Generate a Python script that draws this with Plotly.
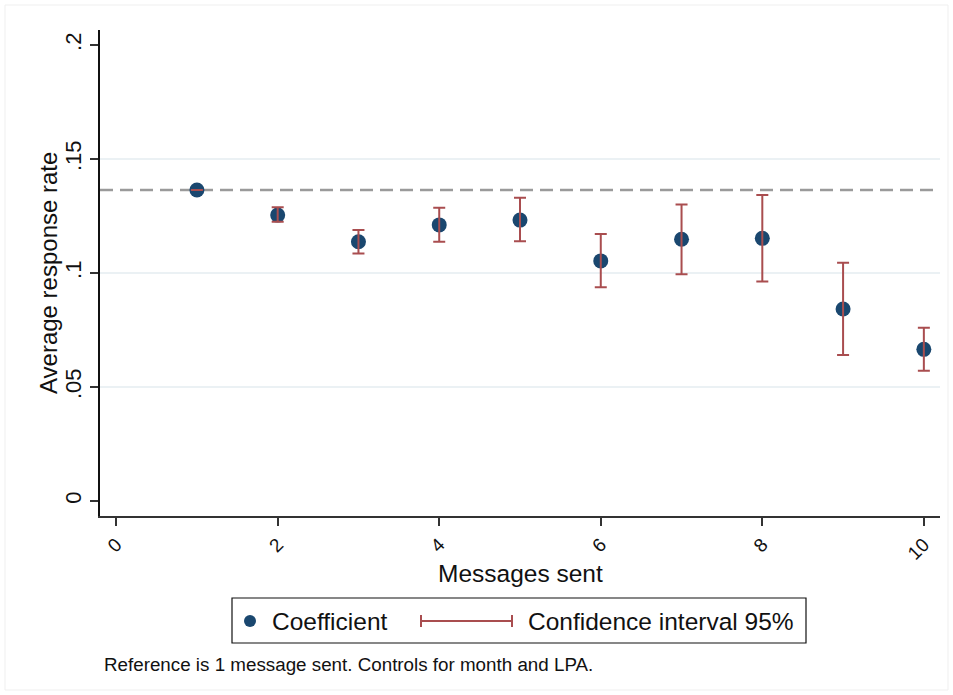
import plotly.graph_objects as go

# Coefficients by number of messages sent (reference: 1 message)
messages = [1, 2, 3, 4, 5, 6, 7, 8, 9, 10]
coef = [0.1364, 0.1254, 0.1137, 0.1211, 0.1232, 0.1053, 0.1148, 0.1152, 0.0842, 0.0665]
ci_low = [0.1364, 0.1225, 0.1086, 0.1137, 0.1139, 0.0937, 0.0994, 0.0963, 0.0640, 0.0571]
ci_high = [0.1364, 0.1288, 0.1189, 0.1286, 0.1330, 0.1171, 0.1301, 0.1342, 0.1045, 0.0760]
reference_rate = 0.1364

x_ticks = [0, 2, 4, 6, 8, 10]
y_ticks = [0, 0.05, 0.10, 0.15, 0.20]
y_tick_text = ["0", ".05", ".1", ".15", ".2"]
grid_values = [0.05, 0.10, 0.15]

NAVY = "#1a476f"
MAROON = "#a94d4f"
FONT = "Liberation Sans, Arial, sans-serif"

W, H = 953, 695
ML, MR, MT, MB = 100, 13, 30, 179
PW, PH = W - ML - MR, H - MT - MB


def px(x):
    return (x - ML) / PW


def py(y):
    return (H - MB - y) / PH


fig = go.Figure()

# point estimates
fig.add_trace(go.Scatter(
    x=messages, y=coef, mode="markers",
    marker=dict(color=NAVY, size=15),
    showlegend=False, hoverinfo="skip",
))

# 95% confidence intervals drawn on top of the points
fig.add_trace(go.Scatter(
    x=messages, y=coef, mode="markers",
    marker=dict(color=NAVY, size=1, opacity=0),
    error_y=dict(
        type="data", symmetric=False,
        array=[h - c for h, c in zip(ci_high, coef)],
        arrayminus=[c - l for c, l in zip(coef, ci_low)],
        color=MAROON, thickness=2, width=6,
    ),
    showlegend=False, hoverinfo="skip",
))

shapes = []
for g in grid_values:
    shapes.append(dict(type="line", xref="paper", x0=0, x1=1, yref="y", y0=g, y1=g,
                       line=dict(color="#e4ecf1", width=1.5), layer="below"))

# reference level (1 message sent)
shapes.append(dict(type="line", xref="paper", x0=0, x1=1, yref="y",
                   y0=reference_rate, y1=reference_rate,
                   line=dict(color="#9a9a9a", width=2.5, dash="13px,7px"), layer="below"))

# legend box
shapes.append(dict(type="rect", xref="paper", yref="paper",
                   x0=px(232), x1=px(806), y0=py(643), y1=py(598),
                   line=dict(color="#111111", width=1.2), fillcolor="white"))
# coefficient symbol
shapes.append(dict(type="circle", xref="paper", yref="paper",
                   x0=px(244), x1=px(256), y0=py(627), y1=py(615),
                   line=dict(color=NAVY, width=0), fillcolor=NAVY))
# confidence interval symbol with caps
ly = py(621)
shapes.append(dict(type="line", xref="paper", yref="paper",
                   x0=px(421), x1=px(512), y0=ly, y1=ly,
                   line=dict(color=MAROON, width=2)))
for cx in (421, 512):
    shapes.append(dict(type="line", xref="paper", yref="paper",
                       x0=px(cx), x1=px(cx), y0=py(615), y1=py(627),
                       line=dict(color=MAROON, width=2)))
# outer frame
shapes.append(dict(type="rect", xref="paper", yref="paper",
                   x0=px(5), x1=px(948), y0=py(690), y1=py(5),
                   line=dict(color="#efefef", width=1), layer="below"))

annotations = [
    dict(text="Coefficient", xref="paper", yref="paper", x=px(270), y=ly,
         xanchor="left", yanchor="middle", showarrow=False,
         font=dict(family=FONT, size=24.5, color="#111111")),
    dict(text="Confidence interval 95%", xref="paper", yref="paper", x=px(526), y=ly,
         xanchor="left", yanchor="middle", showarrow=False,
         font=dict(family=FONT, size=24.5, color="#111111")),
    dict(text="Reference is 1 message sent. Controls for month and LPA.",
         xref="paper", yref="paper", x=px(102), y=py(665),
         xanchor="left", yanchor="middle", showarrow=False,
         font=dict(family=FONT, size=18.8, color="#111111")),
    dict(text="Messages sent", xref="paper", yref="paper", x=px(520), y=py(573),
         xanchor="center", yanchor="middle", showarrow=False,
         font=dict(family=FONT, size=24.5, color="#111111")),
    dict(text="Average response rate", xref="paper", yref="paper", x=px(48), y=py(273),
         xanchor="center", yanchor="middle", showarrow=False, textangle=-90,
         font=dict(family=FONT, size=24, color="#111111")),
]

fig.update_layout(
    width=W, height=H,
    margin=dict(l=ML, r=MR, t=MT, b=MB),
    paper_bgcolor="white", plot_bgcolor="white",
    font=dict(family=FONT, color="#111111"),
    shapes=shapes, annotations=annotations,
    showlegend=False,
)
fig.update_xaxes(
    range=[-0.2, 10.2], tickvals=x_ticks, tickangle=-45,
    showgrid=False, zeroline=False,
    showline=True, linecolor="#333333", linewidth=2,
    ticks="outside", ticklen=8, tickwidth=1.5, tickcolor="#333333",
    tickfont=dict(family=FONT, size=19, color="#111111"),
)
fig.update_yaxes(
    range=[-0.0066, 0.2066], tickvals=y_ticks, ticktext=y_tick_text, tickangle=-90,
    showgrid=False, zeroline=False,
    showline=True, linecolor="#111111", linewidth=2,
    ticks="outside", ticklen=8, tickwidth=1.5, tickcolor="#333333",
    tickfont=dict(family=FONT, size=22, color="#111111"),
)

fig.write_html("out.html")
